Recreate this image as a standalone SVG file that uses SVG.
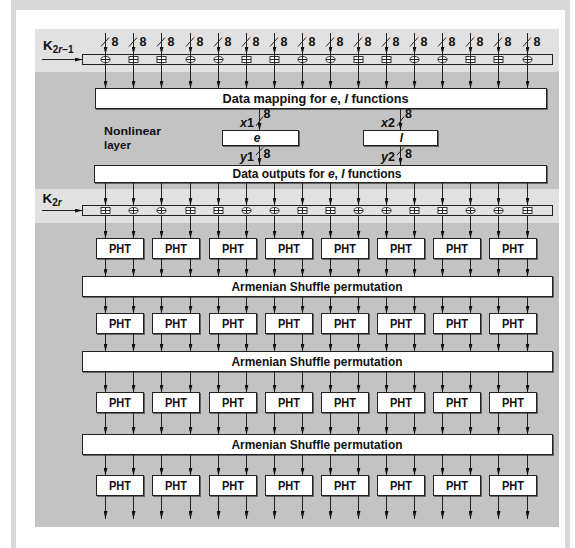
<svg xmlns="http://www.w3.org/2000/svg" width="575" height="548" viewBox="0 0 575 548">
<style>
.t{font-family:"Liberation Sans",Arial,sans-serif;font-weight:bold;fill:#111}
.i{font-style:italic}
.box{fill:#fff;stroke:#222;stroke-width:1;filter:url(#sh)}
.kbox{fill:#e1e1e1;stroke:#222;stroke-width:1}
.cn{stroke:#222;stroke-width:1;fill:none;marker-end:url(#ah)}
.sl{stroke:#222;stroke-width:1;fill:none}
.sym{fill:#fff;stroke:#333;stroke-width:1}
.lt{fill:#e1e1e1}
.dk{fill:#c3c3c3}
.fr{fill:#d8d8d8}
</style>
<defs>
<filter id="sh" x="-5%" y="-20%" width="110%" height="150%"><feDropShadow dx="1" dy="1" stdDeviation="0" flood-color="#666" flood-opacity="1"/></filter>
<marker id="ah" viewBox="0 0 8 4" refX="8" refY="2" markerWidth="8" markerHeight="4" markerUnits="userSpaceOnUse" orient="auto"><path d="M0,0 L8,2 L0,4 Z" fill="#111"/></marker>
<g id="col">
<line class="cn" x1="0" y1="33" x2="0" y2="54.5"/>
<line class="cn" x1="0" y1="54.5" x2="0" y2="88.5"/>
<line class="sl" x1="-4.5" y1="46.5" x2="3.5" y2="37.5"/>
<line class="cn" x1="0" y1="182.5" x2="0" y2="205.5"/>
<line class="cn" x1="0" y1="215.5" x2="0" y2="238.5"/>
<line class="cn" x1="0" y1="258.5" x2="0" y2="276.5"/>
<line class="cn" x1="0" y1="296.5" x2="0" y2="313.5"/>
<line class="cn" x1="0" y1="333.5" x2="0" y2="351.5"/>
<line class="cn" x1="0" y1="371.5" x2="0" y2="392.5"/>
<line class="cn" x1="0" y1="412.5" x2="0" y2="434.5"/>
<line class="cn" x1="0" y1="454.5" x2="0" y2="475.5"/>
<line class="cn" x1="0" y1="495.5" x2="0" y2="519"/>
</g>
<g id="xor"><ellipse class="sym" cx="0" cy="0" rx="4.5" ry="3"/><path class="sl" d="M-4.5,0H4.5M0,-3V3"/></g>
<g id="add"><rect class="sym" x="-4.5" y="-3" width="9" height="6"/><path class="sl" d="M-4.5,0H4.5M0,-3V3"/></g>
</defs>
<rect width="575" height="548" fill="#fff"/>
<g id="frame">
<rect class="fr" x="11" y="0" width="559" height="10"/>
<rect class="fr" x="11" y="0" width="5" height="548"/>
<rect class="fr" x="565" y="0" width="5" height="548"/>
</g>
<g id="bands">
<rect class="lt" x="35" y="29" width="524" height="43"/>
<rect class="dk" x="35" y="72" width="524" height="117"/>
<rect class="lt" x="35" y="189" width="524" height="34"/>
<rect class="dk" x="35" y="223" width="524" height="304"/>
</g>
<g id="key1">
<rect class="kbox" x="82.5" y="54.5" width="470" height="10"/>
<text class="t" x="43" y="50" font-size="13.5">K<tspan font-size="10" dy="3">2<tspan class="i">r</tspan>−1</tspan></text>
<use href="#xor" x="105.5" y="59.5"/><use href="#add" x="133.5" y="59.5"/><use href="#add" x="161.5" y="59.5"/><use href="#xor" x="190.5" y="59.5"/>
<use href="#xor" x="218.5" y="59.5"/><use href="#add" x="246.5" y="59.5"/><use href="#add" x="274.5" y="59.5"/><use href="#xor" x="302.5" y="59.5"/>
<use href="#xor" x="330.5" y="59.5"/><use href="#add" x="358.5" y="59.5"/><use href="#add" x="386.5" y="59.5"/><use href="#xor" x="414.5" y="59.5"/>
<use href="#xor" x="442.5" y="59.5"/><use href="#add" x="470.5" y="59.5"/><use href="#add" x="498.5" y="59.5"/><use href="#xor" x="527.5" y="59.5"/>
</g>
<g id="datamap">
<rect class="box" x="95.5" y="88.5" width="451" height="20"/>
<text class="t" x="315.5" y="102.5" font-size="12.5" text-anchor="middle" textLength="186" lengthAdjust="spacingAndGlyphs">Data mapping for <tspan class="i">e</tspan>, <tspan class="i">l</tspan> functions</text>
</g>
<g id="nonlinear-label">
<text class="t" x="104" y="135" font-size="11.5" textLength="57" lengthAdjust="spacingAndGlyphs">Nonlinear</text>
<text class="t" x="104" y="148.5" font-size="11.5">layer</text>
</g>
<g id="func-e">
<rect class="box" x="222.5" y="130.5" width="76" height="15"/>
<text class="t i" x="257" y="142" font-size="12" text-anchor="middle">e</text>
</g>
<g id="func-l">
<rect class="box" x="363.5" y="130.5" width="74" height="15"/>
<text class="t i" x="401.5" y="142" font-size="12" text-anchor="middle">l</text>
</g>
<g id="dataout">
<rect class="box" x="94.5" y="165.5" width="452" height="17"/>
<text class="t" x="317" y="178" font-size="12" text-anchor="middle" textLength="169" lengthAdjust="spacing">Data outputs for <tspan class="i">e</tspan>, <tspan class="i">l</tspan> functions</text>
</g>
<g id="key2">
<rect class="kbox" x="82.5" y="205.5" width="470" height="10"/>
<text class="t" x="42.5" y="202.5" font-size="13.5">K<tspan font-size="10" dy="3">2<tspan class="i">r</tspan></tspan></text>
<use href="#add" x="105.5" y="210.5"/><use href="#xor" x="133.5" y="210.5"/><use href="#xor" x="161.5" y="210.5"/><use href="#add" x="190.5" y="210.5"/>
<use href="#add" x="218.5" y="210.5"/><use href="#xor" x="246.5" y="210.5"/><use href="#xor" x="274.5" y="210.5"/><use href="#add" x="302.5" y="210.5"/>
<use href="#add" x="330.5" y="210.5"/><use href="#xor" x="358.5" y="210.5"/><use href="#xor" x="386.5" y="210.5"/><use href="#add" x="414.5" y="210.5"/>
<use href="#add" x="442.5" y="210.5"/><use href="#xor" x="470.5" y="210.5"/><use href="#xor" x="498.5" y="210.5"/><use href="#add" x="527.5" y="210.5"/>
</g>
<g id="pht-row1">
<g id="pht1-1"><rect class="box" x="96.5" y="238.5" width="47" height="20"/><text class="t" x="120" y="253" font-size="12.5" text-anchor="middle" textLength="22" lengthAdjust="spacingAndGlyphs">PHT</text></g>
<g id="pht1-2"><rect class="box" x="152.5" y="238.5" width="47" height="20"/><text class="t" x="176" y="253" font-size="12.5" text-anchor="middle" textLength="22" lengthAdjust="spacingAndGlyphs">PHT</text></g>
<g id="pht1-3"><rect class="box" x="209.5" y="238.5" width="47" height="20"/><text class="t" x="233" y="253" font-size="12.5" text-anchor="middle" textLength="22" lengthAdjust="spacingAndGlyphs">PHT</text></g>
<g id="pht1-4"><rect class="box" x="265.5" y="238.5" width="47" height="20"/><text class="t" x="289" y="253" font-size="12.5" text-anchor="middle" textLength="22" lengthAdjust="spacingAndGlyphs">PHT</text></g>
<g id="pht1-5"><rect class="box" x="321.5" y="238.5" width="47" height="20"/><text class="t" x="345" y="253" font-size="12.5" text-anchor="middle" textLength="22" lengthAdjust="spacingAndGlyphs">PHT</text></g>
<g id="pht1-6"><rect class="box" x="377.5" y="238.5" width="47" height="20"/><text class="t" x="401" y="253" font-size="12.5" text-anchor="middle" textLength="22" lengthAdjust="spacingAndGlyphs">PHT</text></g>
<g id="pht1-7"><rect class="box" x="433.5" y="238.5" width="47" height="20"/><text class="t" x="457" y="253" font-size="12.5" text-anchor="middle" textLength="22" lengthAdjust="spacingAndGlyphs">PHT</text></g>
<g id="pht1-8"><rect class="box" x="489.5" y="238.5" width="47" height="20"/><text class="t" x="513" y="253" font-size="12.5" text-anchor="middle" textLength="22" lengthAdjust="spacingAndGlyphs">PHT</text></g>
</g>
<g id="shuffle1">
<rect class="box" x="82.5" y="276.5" width="470" height="20"/>
<text class="t" x="317" y="290.5" font-size="12.5" text-anchor="middle" textLength="171" lengthAdjust="spacingAndGlyphs">Armenian Shuffle permutation</text>
</g>
<g id="pht-row2">
<g id="pht2-1"><rect class="box" x="96.5" y="313.5" width="47" height="20"/><text class="t" x="120" y="328" font-size="12.5" text-anchor="middle" textLength="22" lengthAdjust="spacingAndGlyphs">PHT</text></g>
<g id="pht2-2"><rect class="box" x="152.5" y="313.5" width="47" height="20"/><text class="t" x="176" y="328" font-size="12.5" text-anchor="middle" textLength="22" lengthAdjust="spacingAndGlyphs">PHT</text></g>
<g id="pht2-3"><rect class="box" x="209.5" y="313.5" width="47" height="20"/><text class="t" x="233" y="328" font-size="12.5" text-anchor="middle" textLength="22" lengthAdjust="spacingAndGlyphs">PHT</text></g>
<g id="pht2-4"><rect class="box" x="265.5" y="313.5" width="47" height="20"/><text class="t" x="289" y="328" font-size="12.5" text-anchor="middle" textLength="22" lengthAdjust="spacingAndGlyphs">PHT</text></g>
<g id="pht2-5"><rect class="box" x="321.5" y="313.5" width="47" height="20"/><text class="t" x="345" y="328" font-size="12.5" text-anchor="middle" textLength="22" lengthAdjust="spacingAndGlyphs">PHT</text></g>
<g id="pht2-6"><rect class="box" x="377.5" y="313.5" width="47" height="20"/><text class="t" x="401" y="328" font-size="12.5" text-anchor="middle" textLength="22" lengthAdjust="spacingAndGlyphs">PHT</text></g>
<g id="pht2-7"><rect class="box" x="433.5" y="313.5" width="47" height="20"/><text class="t" x="457" y="328" font-size="12.5" text-anchor="middle" textLength="22" lengthAdjust="spacingAndGlyphs">PHT</text></g>
<g id="pht2-8"><rect class="box" x="489.5" y="313.5" width="47" height="20"/><text class="t" x="513" y="328" font-size="12.5" text-anchor="middle" textLength="22" lengthAdjust="spacingAndGlyphs">PHT</text></g>
</g>
<g id="shuffle2">
<rect class="box" x="82.5" y="351.5" width="470" height="20"/>
<text class="t" x="317" y="366" font-size="12.5" text-anchor="middle" textLength="171" lengthAdjust="spacingAndGlyphs">Armenian Shuffle permutation</text>
</g>
<g id="pht-row3">
<g id="pht3-1"><rect class="box" x="96.5" y="392.5" width="47" height="20"/><text class="t" x="120" y="407" font-size="12.5" text-anchor="middle" textLength="22" lengthAdjust="spacingAndGlyphs">PHT</text></g>
<g id="pht3-2"><rect class="box" x="152.5" y="392.5" width="47" height="20"/><text class="t" x="176" y="407" font-size="12.5" text-anchor="middle" textLength="22" lengthAdjust="spacingAndGlyphs">PHT</text></g>
<g id="pht3-3"><rect class="box" x="209.5" y="392.5" width="47" height="20"/><text class="t" x="233" y="407" font-size="12.5" text-anchor="middle" textLength="22" lengthAdjust="spacingAndGlyphs">PHT</text></g>
<g id="pht3-4"><rect class="box" x="265.5" y="392.5" width="47" height="20"/><text class="t" x="289" y="407" font-size="12.5" text-anchor="middle" textLength="22" lengthAdjust="spacingAndGlyphs">PHT</text></g>
<g id="pht3-5"><rect class="box" x="321.5" y="392.5" width="47" height="20"/><text class="t" x="345" y="407" font-size="12.5" text-anchor="middle" textLength="22" lengthAdjust="spacingAndGlyphs">PHT</text></g>
<g id="pht3-6"><rect class="box" x="377.5" y="392.5" width="47" height="20"/><text class="t" x="401" y="407" font-size="12.5" text-anchor="middle" textLength="22" lengthAdjust="spacingAndGlyphs">PHT</text></g>
<g id="pht3-7"><rect class="box" x="433.5" y="392.5" width="47" height="20"/><text class="t" x="457" y="407" font-size="12.5" text-anchor="middle" textLength="22" lengthAdjust="spacingAndGlyphs">PHT</text></g>
<g id="pht3-8"><rect class="box" x="489.5" y="392.5" width="47" height="20"/><text class="t" x="513" y="407" font-size="12.5" text-anchor="middle" textLength="22" lengthAdjust="spacingAndGlyphs">PHT</text></g>
</g>
<g id="shuffle3">
<rect class="box" x="82.5" y="434.5" width="470" height="20"/>
<text class="t" x="317" y="449" font-size="12.5" text-anchor="middle" textLength="171" lengthAdjust="spacingAndGlyphs">Armenian Shuffle permutation</text>
</g>
<g id="pht-row4">
<g id="pht4-1"><rect class="box" x="96.5" y="475.5" width="47" height="20"/><text class="t" x="120" y="490" font-size="12.5" text-anchor="middle" textLength="22" lengthAdjust="spacingAndGlyphs">PHT</text></g>
<g id="pht4-2"><rect class="box" x="152.5" y="475.5" width="47" height="20"/><text class="t" x="176" y="490" font-size="12.5" text-anchor="middle" textLength="22" lengthAdjust="spacingAndGlyphs">PHT</text></g>
<g id="pht4-3"><rect class="box" x="209.5" y="475.5" width="47" height="20"/><text class="t" x="233" y="490" font-size="12.5" text-anchor="middle" textLength="22" lengthAdjust="spacingAndGlyphs">PHT</text></g>
<g id="pht4-4"><rect class="box" x="265.5" y="475.5" width="47" height="20"/><text class="t" x="289" y="490" font-size="12.5" text-anchor="middle" textLength="22" lengthAdjust="spacingAndGlyphs">PHT</text></g>
<g id="pht4-5"><rect class="box" x="321.5" y="475.5" width="47" height="20"/><text class="t" x="345" y="490" font-size="12.5" text-anchor="middle" textLength="22" lengthAdjust="spacingAndGlyphs">PHT</text></g>
<g id="pht4-6"><rect class="box" x="377.5" y="475.5" width="47" height="20"/><text class="t" x="401" y="490" font-size="12.5" text-anchor="middle" textLength="22" lengthAdjust="spacingAndGlyphs">PHT</text></g>
<g id="pht4-7"><rect class="box" x="433.5" y="475.5" width="47" height="20"/><text class="t" x="457" y="490" font-size="12.5" text-anchor="middle" textLength="22" lengthAdjust="spacingAndGlyphs">PHT</text></g>
<g id="pht4-8"><rect class="box" x="489.5" y="475.5" width="47" height="20"/><text class="t" x="513" y="490" font-size="12.5" text-anchor="middle" textLength="22" lengthAdjust="spacingAndGlyphs">PHT</text></g>
</g>
<g id="connectors">
<line class="cn" x1="42" y1="59.5" x2="82.5" y2="59.5"/>
<line class="cn" x1="42" y1="210.5" x2="82.5" y2="210.5"/>
<use href="#col" x="105.5"/><use href="#col" x="133.5"/><use href="#col" x="161.5"/><use href="#col" x="190.5"/>
<use href="#col" x="218.5"/><use href="#col" x="246.5"/><use href="#col" x="274.5"/><use href="#col" x="302.5"/>
<use href="#col" x="330.5"/><use href="#col" x="358.5"/><use href="#col" x="386.5"/><use href="#col" x="414.5"/>
<use href="#col" x="442.5"/><use href="#col" x="470.5"/><use href="#col" x="498.5"/><use href="#col" x="527.5"/>
<line class="cn" x1="259.5" y1="108.5" x2="259.5" y2="130.5"/>
<line class="cn" x1="259.5" y1="145.5" x2="259.5" y2="165.5"/>
<line class="cn" x1="400.5" y1="108.5" x2="400.5" y2="130.5"/>
<line class="cn" x1="400.5" y1="145.5" x2="400.5" y2="165.5"/>
<path class="sl" d="M256,126L263,116.5M256,155L263,147.5M397,126L404,116.5M397,155L404,147.5"/>
</g>
<g id="bus-labels" class="t" font-size="12.5">
<text x="111.5" y="46">8</text><text x="139.5" y="46">8</text><text x="167.5" y="46">8</text><text x="196.5" y="46">8</text>
<text x="224.5" y="46">8</text><text x="252.5" y="46">8</text><text x="280.5" y="46">8</text><text x="308.5" y="46">8</text>
<text x="336.5" y="46">8</text><text x="364.5" y="46">8</text><text x="392.5" y="46">8</text><text x="420.5" y="46">8</text>
<text x="448.5" y="46">8</text><text x="476.5" y="46">8</text><text x="504.5" y="46">8</text><text x="533.5" y="46">8</text>
<text x="263.5" y="118">8</text><text x="263.5" y="157.5">8</text>
<text x="405" y="118">8</text><text x="405" y="157.5">8</text>
<text x="254" y="127" text-anchor="end"><tspan class="i">x</tspan>1</text>
<text x="254" y="160.5" text-anchor="end"><tspan class="i">y</tspan>1</text>
<text x="395" y="127" text-anchor="end"><tspan class="i">x</tspan>2</text>
<text x="395" y="160.5" text-anchor="end"><tspan class="i">y</tspan>2</text>
</g>
</svg>
